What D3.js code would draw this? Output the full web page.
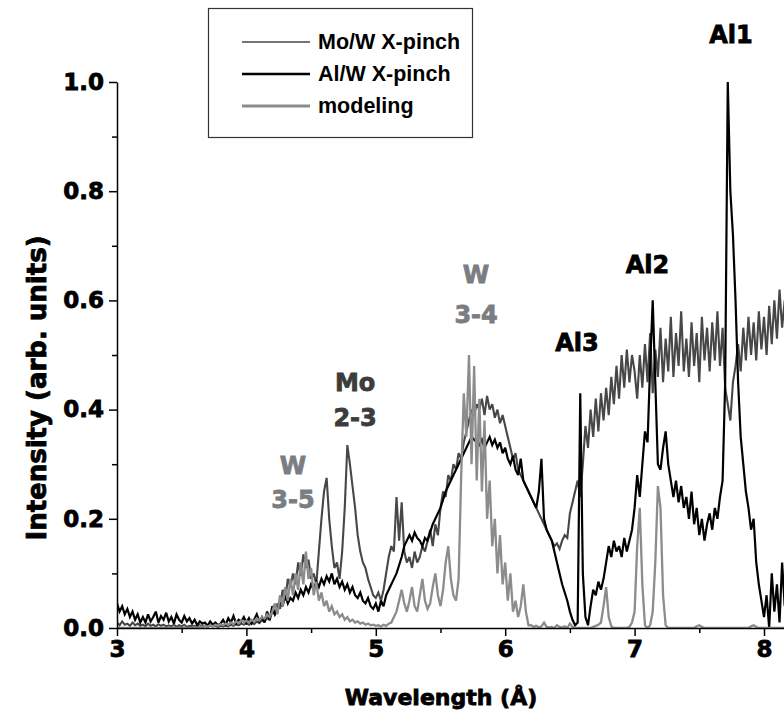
<!DOCTYPE html>
<html><head><meta charset="utf-8">
<script src="https://cdn.jsdelivr.net/npm/d3@7/dist/d3.min.js"></script>
<style>body{margin:0;background:#fff;} svg{display:block;}</style>
</head><body>
<svg id="c" width="784" height="727"></svg>
<script>
// ---- data ----
const xTicks = [3, 4, 5, 6, 7, 8];
const xMinor = [3.5, 4.5, 5.5, 6.5, 7.5];
const yTicks = [0, 0.2, 0.4, 0.6, 0.8, 1.0];
const yMinor = [0.1, 0.3, 0.5, 0.7, 0.9];
const wlStart = 3.0, wlStep = 0.02; // sampling grid of the spectra (Å)

const moW = [
 0.01,0.005,0.012,0.006,0.008,0.004,0.01,0.005,0.008,0.004,
 0.006,0.003,0.008,0.004,0.006,0.003,0.007,0.004,0.006,0.003,
 0.005,0.003,0.006,0.002,0.005,0.003,0.006,0.002,0.004,0.003,
 0.004,0.002,0.005,0.003,0.004,0.002,0.005,0.003,0.004,0.002,
 0.004,0.003,0.005,0.003,0.006,0.004,0.007,0.005,0.008,0.006,
 0.008,0.006,0.01,0.007,0.012,0.009,0.014,0.012,0.018,0.015,
 0.03,0.025,0.045,0.035,0.07,0.05,0.09,0.075,0.1,0.08,
 0.12,0.095,0.135,0.11,0.125,0.09,0.1,0.08,0.14,0.2,
 0.25,0.275,0.2,0.15,0.11,0.12,0.09,0.14,0.22,0.335,
 0.3,0.26,0.22,0.17,0.14,0.12,0.11,0.09,0.075,0.06,
 0.055,0.065,0.05,0.07,0.1,0.13,0.15,0.14,0.24,0.16,
 0.23,0.14,0.12,0.13,0.11,0.14,0.12,0.13,0.15,0.14,
 0.16,0.18,0.15,0.19,0.17,0.22,0.25,0.24,0.28,0.27,
 0.3,0.29,0.32,0.31,0.34,0.36,0.38,0.4,0.39,0.41,
 0.4,0.42,0.39,0.425,0.4,0.41,0.385,0.4,0.375,0.39,
 0.37,0.35,0.33,0.31,0.32,0.29,0.28,0.27,0.26,0.25,
 0.24,0.23,0.22,0.21,0.2,0.19,0.18,0.17,0.16,0.15,
 0.155,0.145,0.16,0.17,0.165,0.21,0.23,0.25,0.27,0.24,
 0.3,0.37,0.33,0.4,0.35,0.42,0.36,0.43,0.38,0.44,
 0.39,0.46,0.41,0.48,0.42,0.5,0.44,0.51,0.45,0.5,
 0.47,0.42,0.5,0.44,0.52,0.45,0.54,0.43,0.51,0.46,
 0.55,0.45,0.53,0.47,0.57,0.46,0.54,0.48,0.58,0.47,
 0.53,0.46,0.56,0.48,0.54,0.45,0.57,0.49,0.55,0.47,
 0.56,0.49,0.58,0.48,0.55,0.44,0.41,0.38,0.45,0.48,
 0.52,0.47,0.55,0.49,0.57,0.5,0.56,0.49,0.58,0.51,
 0.57,0.5,0.59,0.52,0.6,0.53,0.62,0.55,0.6
];

const alW = [
 0.045,0.03,0.04,0.025,0.035,0.02,0.03,0.015,0.025,0.01,
 0.02,0.01,0.025,0.012,0.02,0.03,0.01,0.022,0.015,0.028,
 0.012,0.02,0.008,0.025,0.015,0.01,0.022,0.012,0.018,0.008,
 0.015,0.005,0.012,0.008,0.01,0.004,0.012,0.006,0.01,0.005,
 0.008,0.015,0.006,0.018,0.01,0.022,0.008,0.015,0.012,0.02,
 0.01,0.018,0.008,0.015,0.025,0.012,0.02,0.01,0.03,0.015,
 0.04,0.025,0.035,0.05,0.04,0.06,0.045,0.055,0.05,0.065,
 0.055,0.07,0.06,0.075,0.065,0.08,0.07,0.085,0.075,0.09,
 0.08,0.095,0.085,0.1,0.08,0.09,0.075,0.085,0.07,0.08,
 0.065,0.075,0.06,0.055,0.065,0.05,0.045,0.055,0.04,0.035,
 0.045,0.03,0.05,0.04,0.06,0.07,0.08,0.09,0.1,0.115,
 0.13,0.15,0.16,0.17,0.16,0.175,0.165,0.16,0.15,0.165,
 0.16,0.175,0.19,0.2,0.21,0.22,0.235,0.25,0.26,0.27,
 0.28,0.29,0.3,0.31,0.32,0.33,0.34,0.35,0.345,0.34,
 0.335,0.345,0.33,0.34,0.35,0.335,0.345,0.33,0.34,0.32,
 0.33,0.31,0.3,0.315,0.29,0.28,0.31,0.27,0.26,0.25,
 0.24,0.23,0.22,0.25,0.31,0.2,0.18,0.17,0.16,0.14,
 0.12,0.1,0.08,0.065,0.05,0.03,0.015,0.005,0.01,0.43,
 0.1,0.02,0.005,0.04,0.07,0.06,0.085,0.07,0.09,0.12,
 0.15,0.13,0.16,0.14,0.15,0.13,0.165,0.14,0.16,0.18,
 0.22,0.28,0.24,0.3,0.36,0.34,0.48,0.6,0.45,0.3,
 0.29,0.33,0.36,0.3,0.27,0.24,0.27,0.23,0.26,0.22,
 0.24,0.2,0.25,0.19,0.22,0.17,0.2,0.16,0.19,0.21,
 0.18,0.22,0.2,0.24,0.27,0.45,1.0,0.8,0.72,0.6,
 0.45,0.35,0.3,0.25,0.22,0.18,0.2,0.12,0.08,0.05,
 0.02,0.06,0.0,0.1,0.03,0.08,0.01,0.12,0.04
];

const modeling = [
 0,0,0,0,0,0,0,0,0,0,
 0,0,0,0,0,0,0,0,0,0,
 0,0,0,0,0,0,0,0,0,0,
 0.002,0,0.003,0.001,0.004,0.002,0.005,0.003,0.006,0.004,
 0.007,0.005,0.008,0.006,0.01,0.007,0.012,0.009,0.014,0.011,
 0.013,0.01,0.015,0.012,0.018,0.014,0.02,0.017,0.025,0.02,
 0.03,0.045,0.025,0.06,0.04,0.075,0.05,0.09,0.06,0.1,
 0.07,0.12,0.08,0.14,0.09,0.11,0.06,0.085,0.05,0.065,
 0.04,0.05,0.03,0.04,0.025,0.03,0.02,0.025,0.015,0.02,
 0.012,0.015,0.01,0.012,0.008,0.01,0.006,0.008,0.005,0.006,
 0.004,0.005,0.003,0.006,0.004,0.008,0.01,0.02,0.03,0.05,
 0.07,0.045,0.03,0.05,0.075,0.04,0.03,0.06,0.09,0.05,
 0.035,0.045,0.075,0.1,0.06,0.04,0.07,0.12,0.15,0.09,
 0.06,0.05,0.09,0.28,0.43,0.35,0.5,0.3,0.48,0.27,
 0.42,0.25,0.38,0.2,0.27,0.15,0.2,0.1,0.17,0.08,
 0.12,0.05,0.1,0.03,0.05,0.02,0.04,0.08,0.03,0.005,
 0.005,0.002,0.004,0.001,0.003,0.01,0.002,0.001,0.002,0,
 0.005,0.002,0.001,0.003,0,0.008,0.002,0,0,0,
 0,0,0,0,0.002,0.004,0.006,0.01,0.04,0.075,
 0.02,0.003,0,0,0,0,0,0,0.002,0.01,
 0.03,0.15,0.22,0.08,0.005,0,0.005,0.03,0.12,0.26,
 0.22,0.06,0.005,0,0,0,0,0,0,0,
 0,0,0,0,0.003,0.005,0.002,0,0,0,
 0,0,0,0,0,0,0,0,0,0,
 0,0,0,0,0,0.003,0.005,0.002,0,0,
 0,0,0,0,0,0,0,0,0
];

const seriesNames = ["Mo/W X-pinch", "Al/W X-pinch", "modeling"];
const seriesColors = ["#474747", "#000000", "#8c8c8c"];
const seriesWidths = [2.1, 2.2, 2.3];
const legendWidths = [1.6, 2.4, 3.2];

// annotation labels in data coordinates [wavelength, intensity]
const annLabels = ["Al1", "Al2", "Al3", "Mo", "2-3", "W", "3-5", "W", "3-4"];
const annWl     = [7.745, 7.10, 6.555, 4.84, 4.84, 4.36, 4.36, 5.775, 5.775];
const annVal    = [1.086, 0.665, 0.522, 0.449, 0.385, 0.297, 0.234, 0.647, 0.573];
const annColor  = ["#000","#000","#000","#3c3c3c","#3c3c3c","#7a7d82","#7a7d82","#7a7d82","#7a7d82"];

// ---- chart ----
const FONT = "'DejaVu Sans', sans-serif";
const svg = d3.select("#c");
const x = d3.scaleLinear().domain([3, 3 + (784 - 117) / 129.4]).range([117, 784]);
const y = d3.scaleLinear().domain([0, 1]).range([628, 82]);

svg.append("defs").append("clipPath").attr("id", "clip")
  .append("rect").attr("x", 117).attr("y", 60).attr("width", 667).attr("height", 568);

const line = d3.line()
  .x((d, i) => x(wlStart + i * wlStep))
  .y(d => y(d));

const plot = svg.append("g").attr("clip-path", "url(#clip)");
[moW, alW, modeling].forEach((s, k) => {
  plot.append("path").datum(s)
    .attr("fill", "none")
    .attr("stroke", seriesColors[k])
    .attr("stroke-width", seriesWidths[k])
    .attr("stroke-linejoin", "miter")
    .attr("stroke-miterlimit", 3)
    .attr("d", line);
});

// axes
svg.append("g").attr("transform", "translate(0,628)")
  .call(d3.axisBottom(x).tickValues(xTicks).tickSize(8).tickSizeOuter(0).tickPadding(5).tickFormat(d3.format("d")));
svg.append("g").attr("transform", "translate(0,628)")
  .call(d3.axisBottom(x).tickValues(xMinor).tickSize(5).tickSizeOuter(0).tickFormat(""))
  .select(".domain").remove();
svg.append("g").attr("transform", "translate(117,0)")
  .call(d3.axisLeft(y).tickValues(yTicks).tickSize(8).tickSizeOuter(0).tickPadding(5).tickFormat(d3.format(".1f")));
svg.append("g").attr("transform", "translate(117,0)")
  .call(d3.axisLeft(y).tickValues(yMinor).tickSize(5).tickSizeOuter(0).tickFormat(""))
  .select(".domain").remove();

svg.selectAll(".domain, .tick line").attr("stroke", "#000").attr("stroke-width", 1.5);
svg.selectAll(".tick text").attr("font-family", FONT).attr("font-weight", "bold")
  .attr("font-size", 23).attr("fill", "#000")
  .attr("stroke", "#000").attr("stroke-width", 0.8);

// axis titles
svg.append("text").attr("x", 441).attr("y", 697).attr("text-anchor", "middle")
  .attr("dominant-baseline", "central")
  .attr("font-family", FONT).attr("font-weight", "bold").attr("font-size", 22)
  .attr("stroke", "#000").attr("stroke-width", 0.8)
  .text("Wavelength (Å)");
svg.append("text").attr("transform", "translate(37,388) rotate(-90)")
  .attr("text-anchor", "middle").attr("dominant-baseline", "central")
  .attr("font-family", FONT).attr("font-weight", "bold").attr("font-size", 26)
  .attr("stroke", "#000").attr("stroke-width", 0.8)
  .text("Intensity (arb. units)");

// annotations
annLabels.forEach((t, i) => {
  svg.append("text").attr("x", x(annWl[i])).attr("y", y(annVal[i]))
    .attr("text-anchor", "middle").attr("dominant-baseline", "central")
    .attr("font-family", FONT).attr("font-weight", "bold").attr("font-size", 24)
    .attr("fill", annColor[i]).attr("stroke", annColor[i]).attr("stroke-width", 0.8)
    .text(t);
});

// legend
const lg = svg.append("g");
lg.append("rect").attr("x", 208.5).attr("y", 8.5).attr("width", 264).attr("height", 129)
  .attr("fill", "#fff").attr("stroke", "#333").attr("stroke-width", 1.2);
const legY = [42, 74, 106];
seriesNames.forEach((n, k) => {
  lg.append("line").attr("x1", 242).attr("x2", 310).attr("y1", legY[k]).attr("y2", legY[k])
    .attr("stroke", seriesColors[k]).attr("stroke-width", legendWidths[k]);
  lg.append("text").attr("x", 318).attr("y", legY[k]).attr("dominant-baseline", "central")
    .attr("font-family", "'Liberation Sans', Arial, sans-serif").attr("font-weight", "bold")
    .attr("font-size", 21.5).attr("fill", "#000").text(n);
});
</script>
</body></html>
